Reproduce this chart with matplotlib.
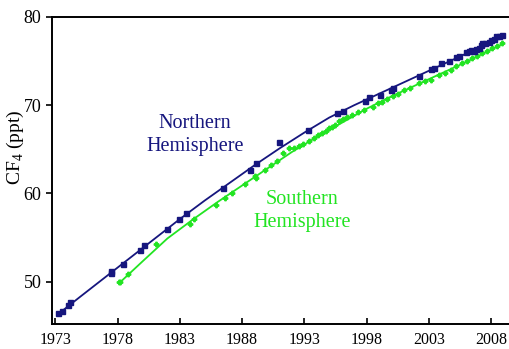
import matplotlib
matplotlib.use('Agg')
import matplotlib.pyplot as plt

plt.rcParams['font.family'] = ['Liberation Serif', 'DejaVu Serif']
plt.rcParams['mathtext.fontset'] = 'custom'
plt.rcParams['mathtext.rm'] = 'Liberation Serif'

NAVY = '#16167e'
GREEN = '#22e422'

# Northern Hemisphere measurements (year, ppt)
nh_year = [1973.2, 1973.5, 1974.0, 1974.2, 1977.5, 1977.5, 1978.4, 1979.8, 1980.1,
           1982.0, 1982.9, 1983.5, 1986.5, 1988.6, 1989.1, 1991.0, 1993.3, 1995.6,
           1996.1, 1997.9, 1998.2, 1999.1, 2000.0, 2000.1, 2002.2, 2003.2, 2003.4,
           2004.0, 2004.6, 2005.2, 2005.4, 2006.0, 2006.2, 2006.4, 2006.6, 2006.8,
           2007.0, 2007.2, 2007.3, 2007.5, 2007.8, 2008.0, 2008.2, 2008.4, 2008.6,
           2008.9]
nh_ppt = [46.4, 46.7, 47.4, 47.7, 51.2, 51.0, 52.0, 53.6, 54.1,
          56.0, 57.1, 57.8, 60.6, 62.7, 63.4, 65.8, 67.2, 69.1,
          69.35, 70.5, 70.9, 71.2, 71.7, 72.0, 73.3, 74.1, 74.2,
          74.8, 75.0, 75.5, 75.6, 76.0, 76.1, 76.3, 76.2, 76.4,
          76.45, 76.8, 77.0, 77.1, 77.2, 77.4, 77.5, 77.8, 77.8,
          78.0]

# Southern Hemisphere measurements (year, ppt)
sh_year = [1978.1, 1978.2, 1978.8, 1981.1, 1983.8, 1984.1, 1985.9, 1986.6, 1987.2,
           1988.2, 1989.0, 1989.1, 1989.8, 1990.3, 1990.8, 1991.3, 1991.8, 1992.2,
           1992.6, 1992.9, 1993.4, 1993.8, 1994.1, 1994.4, 1994.7, 1995.0, 1995.2,
           1995.5, 1995.8, 1996.1, 1996.4, 1996.8, 1997.3, 1997.8, 1998.5, 1998.9,
           1999.2, 1999.6, 2000.1, 2000.5, 2001.0, 2001.5, 2002.2, 2002.7, 2003.2,
           2003.8, 2004.3, 2004.8, 2005.2, 2005.7, 2006.1, 2006.5, 2006.9, 2007.3,
           2007.7, 2008.1, 2008.5, 2008.9]
sh_ppt = [50.0, 50.0, 50.9, 54.3, 56.5, 57.1, 58.7, 59.5, 60.1,
          61.1, 62.0, 61.7, 62.7, 63.2, 63.7, 64.6, 65.1, 65.2,
          65.4, 65.6, 66.0, 66.3, 66.6, 66.9, 67.1, 67.4, 67.5,
          67.8, 68.2, 68.4, 68.7, 68.9, 69.2, 69.5, 69.8, 70.2,
          70.4, 70.7, 71.0, 71.3, 71.7, 72.0, 72.5, 72.7, 72.9,
          73.4, 73.7, 74.0, 74.4, 74.8, 75.0, 75.3, 75.6, 75.9,
          76.2, 76.5, 76.7, 77.0]

# smoothed trend curves
nh_fit_year = [1973.2, 1975, 1977, 1979, 1981, 1983, 1985, 1987, 1989, 1991,
               1993, 1995, 1997, 1999, 2001, 2003, 2005, 2007, 2009]
nh_fit_ppt = [46.3, 48.3, 50.5, 52.7, 54.9, 57.1, 59.2, 61.2, 63.2, 65.1,
              66.9, 68.6, 70.0, 71.3, 72.6, 73.9, 75.2, 76.5, 77.8]
sh_fit_year = [1978.1, 1980, 1982, 1984, 1986, 1988, 1990, 1992, 1994, 1996,
               1998, 2000, 2002, 2004, 2006, 2008, 2009]
sh_fit_ppt = [49.8, 52.3, 54.9, 57.0, 59.0, 60.9, 62.8, 64.7, 66.4, 68.0,
              69.6, 71.0, 72.3, 73.6, 74.9, 76.3, 77.0]

year_ticks = [1973, 1978, 1983, 1988, 1993, 1998, 2003, 2008]
ppt_ticks = [50, 60, 70, 80]

fig = plt.figure(figsize=(5.09, 3.49), dpi=100)
ax = fig.add_axes([0.102, 0.0716, 0.898, 0.8797])

ax.plot(sh_fit_year, sh_fit_ppt, color=GREEN, lw=1.3, zorder=2)
ax.plot(sh_year, sh_ppt, ls='none', marker='P', ms=3.2, color=GREEN, mec=GREEN, zorder=3)
ax.plot(nh_fit_year, nh_fit_ppt, color=NAVY, lw=1.3, zorder=4)
ax.plot(nh_year, nh_ppt, ls='none', marker='s', ms=3.6, color=NAVY, zorder=5)

ax.text(1984.2, 66.6, 'Northern\nHemisphere', color=NAVY, fontsize=14.5,
        ha='center', va='center', linespacing=1.3)
ax.text(1992.8, 58.05, 'Southern\nHemisphere', color=GREEN, fontsize=14.5,
        ha='center', va='center', linespacing=1.3)

ax.set_xlim(1972.72, 2009.44)
ax.set_ylim(45.2, 80)
ax.set_xticks(year_ticks)
ax.set_yticks(ppt_ticks)
ax.tick_params(axis='x', direction='in', length=4, width=1.2, labelsize=11.5, pad=6)
ax.tick_params(axis='y', direction='out', length=4, width=1.2, labelsize=13)
ax.set_ylabel('CF$_4$ (ppt)', fontsize=14)
ax.yaxis.set_label_coords(-0.057, 0.575)

ax.spines['right'].set_visible(False)
for side in ['left', 'top', 'bottom']:
    ax.spines[side].set_linewidth(1.4)

fig.savefig('out.png', dpi=100)
